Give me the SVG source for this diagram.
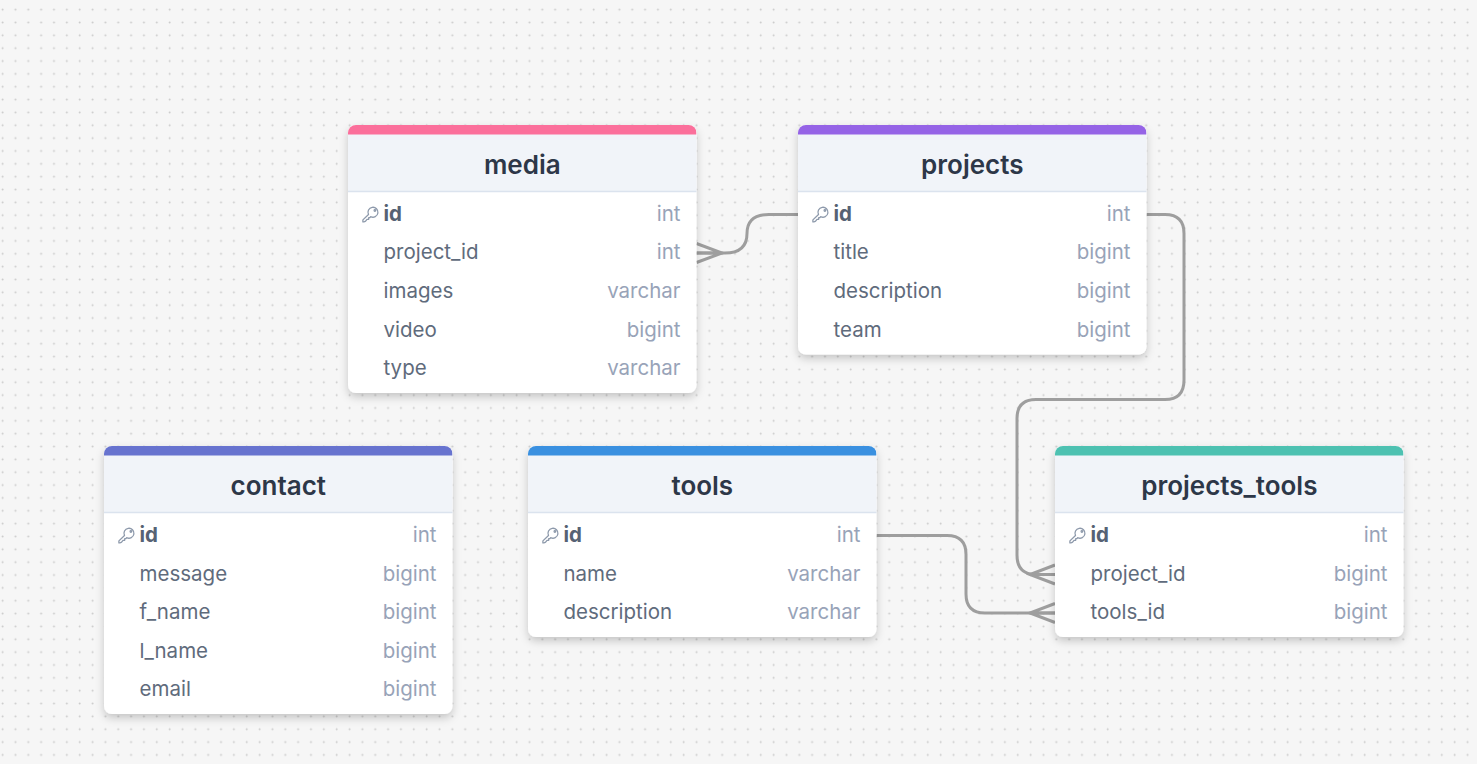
<svg xmlns="http://www.w3.org/2000/svg" width="1477" height="764" viewBox="0 0 1477 764">
<style>
text{font-family:Inter,"Liberation Sans",sans-serif}
.title{font-size:26px;font-weight:600;fill:#2d3748;text-anchor:middle}
.pk{font-size:20.5px;font-weight:700;fill:#566274}
.col{font-size:20.5px;fill:#5f6b7c}
.typ{font-size:20.5px;fill:#98a3b8;text-anchor:end}
.card{fill:#fff;filter:url(#sh)}
.head{fill:#f1f4f9}
.sep{stroke:#dbe3ee;stroke-width:1.3;fill:none}
.conn{fill:none;stroke:#9e9e9e;stroke-width:3}
</style>
<defs>
<pattern id="dots" width="12.85" height="12.85" patternUnits="userSpaceOnUse" x="-4" y="3.2">
<circle cx="6.6" cy="6.4" r="1" fill="#cbcbcb"/>
</pattern>
<filter id="sh" x="-10%" y="-10%" width="120%" height="125%">
<feDropShadow dx="0" dy="4" stdDeviation="4.500" flood-color="#000" flood-opacity="0.2"/>
</filter>
<g id="key" fill="none" stroke="#8d99ab" stroke-width="1.3" stroke-linejoin="round" stroke-linecap="round">
<path d="M-2.500 0A5 5 0 1 1 -0.300 2.200L-1.300 3.200H-2.300V4.800H-4L-5.600 6.800Q-6.200 7.400 -7.200 7.400H-8.100V5.400Z"/>
<circle cx="3.900" cy="-4" r="0.800"/>
</g>
<clipPath id="top"><rect x="0" y="0" width="348.500" height="9.500"/></clipPath>
</defs>
<rect width="1477" height="764" fill="#f6f6f6"/>
<rect width="1477" height="764" fill="url(#dots)"/>

<g id="connectors">
<path class="conn" d="M798 214.500H769Q747 214.500 747 233.500V233.500Q747 253 725 253H696.500"/>
<path class="conn" d="M696.500 243.500L722 253L696.500 262.500M696.500 253H722"/>
<path class="conn" d="M1146.500 214.500H1165Q1184 214.500 1184 233.500V380Q1184 399.500 1165 399.500H1036Q1017 399.500 1017 418.500V555Q1017 574.500 1036 574.500H1055"/>
<path class="conn" d="M1055 565L1030 574.500L1055 584M1030 574.500H1055"/>
<path class="conn" d="M876.500 535.500H947Q966 535.500 966 554.500V594Q966 613 985 613H1055"/>
<path class="conn" d="M1055 603.500L1030 613L1055 622.500M1030 613H1055"/>
</g>

<g id="media" transform="translate(348 125)">
<rect class="card" width="348.500" height="268" rx="8"/>
<rect class="head" y="9" width="348.500" height="57"/>
<rect width="348.500" height="20" rx="8" fill="#fb6f9b" clip-path="url(#top)"/>
<path class="sep" d="M0 66.500H348.500"/>
<text class="title" x="174.300" y="49.400">media</text>
<use href="#key" x="23" y="89.500"/>
<text class="pk" x="35.500" y="96">id</text><text class="typ" x="332.500" y="96">int</text>
<text class="col" x="35.500" y="134">project_id</text><text class="typ" x="332.500" y="134">int</text>
<text class="col" x="35.500" y="173">images</text><text class="typ" x="332.500" y="173">varchar</text>
<text class="col" x="35.500" y="212">video</text><text class="typ" x="332.500" y="212">bigint</text>
<text class="col" x="35.500" y="250">type</text><text class="typ" x="332.500" y="250">varchar</text>
</g>

<g id="projects" transform="translate(798 125)">
<rect class="card" width="348.500" height="229.500" rx="8"/>
<rect class="head" y="9" width="348.500" height="57"/>
<rect width="348.500" height="20" rx="8" fill="#9563e6" clip-path="url(#top)"/>
<path class="sep" d="M0 66.500H348.500"/>
<text class="title" x="174.300" y="49.400">projects</text>
<use href="#key" x="23" y="89.500"/>
<text class="pk" x="35.500" y="96">id</text><text class="typ" x="332.500" y="96">int</text>
<text class="col" x="35.500" y="134">title</text><text class="typ" x="332.500" y="134">bigint</text>
<text class="col" x="35.500" y="173">description</text><text class="typ" x="332.500" y="173">bigint</text>
<text class="col" x="35.500" y="212">team</text><text class="typ" x="332.500" y="212">bigint</text>
</g>

<g id="contact" transform="translate(104 446)">
<rect class="card" width="348.500" height="268" rx="8"/>
<rect class="head" y="9" width="348.500" height="57"/>
<rect width="348.500" height="20" rx="8" fill="#6773cf" clip-path="url(#top)"/>
<path class="sep" d="M0 66.500H348.500"/>
<text class="title" x="174.300" y="49.400">contact</text>
<use href="#key" x="23" y="89.500"/>
<text class="pk" x="35.500" y="96">id</text><text class="typ" x="332.500" y="96">int</text>
<text class="col" x="35.500" y="134.500">message</text><text class="typ" x="332.500" y="134.500">bigint</text>
<text class="col" x="35.500" y="173">f_name</text><text class="typ" x="332.500" y="173">bigint</text>
<text class="col" x="35.500" y="212">l_name</text><text class="typ" x="332.500" y="212">bigint</text>
<text class="col" x="35.500" y="250">email</text><text class="typ" x="332.500" y="250">bigint</text>
</g>

<g id="tools" transform="translate(528 446)">
<rect class="card" width="348.500" height="191" rx="8"/>
<rect class="head" y="9" width="348.500" height="57"/>
<rect width="348.500" height="20" rx="8" fill="#3a90e0" clip-path="url(#top)"/>
<path class="sep" d="M0 66.500H348.500"/>
<text class="title" x="174.300" y="49.400">tools</text>
<use href="#key" x="23" y="89.500"/>
<text class="pk" x="35.500" y="96">id</text><text class="typ" x="332.500" y="96">int</text>
<text class="col" x="35.500" y="134.500">name</text><text class="typ" x="332.500" y="134.500">varchar</text>
<text class="col" x="35.500" y="173">description</text><text class="typ" x="332.500" y="173">varchar</text>
</g>

<g id="projects_tools" transform="translate(1055 446)">
<rect class="card" width="348.500" height="191" rx="8"/>
<rect class="head" y="9" width="348.500" height="57"/>
<rect width="348.500" height="20" rx="8" fill="#4dc1b1" clip-path="url(#top)"/>
<path class="sep" d="M0 66.500H348.500"/>
<text class="title" x="174.300" y="49.400">projects_tools</text>
<use href="#key" x="23" y="89.500"/>
<text class="pk" x="35.500" y="96">id</text><text class="typ" x="332.500" y="96">int</text>
<text class="col" x="35.500" y="134.500">project_id</text><text class="typ" x="332.500" y="134.500">bigint</text>
<text class="col" x="35.500" y="173">tools_id</text><text class="typ" x="332.500" y="173">bigint</text>
</g>
</svg>
